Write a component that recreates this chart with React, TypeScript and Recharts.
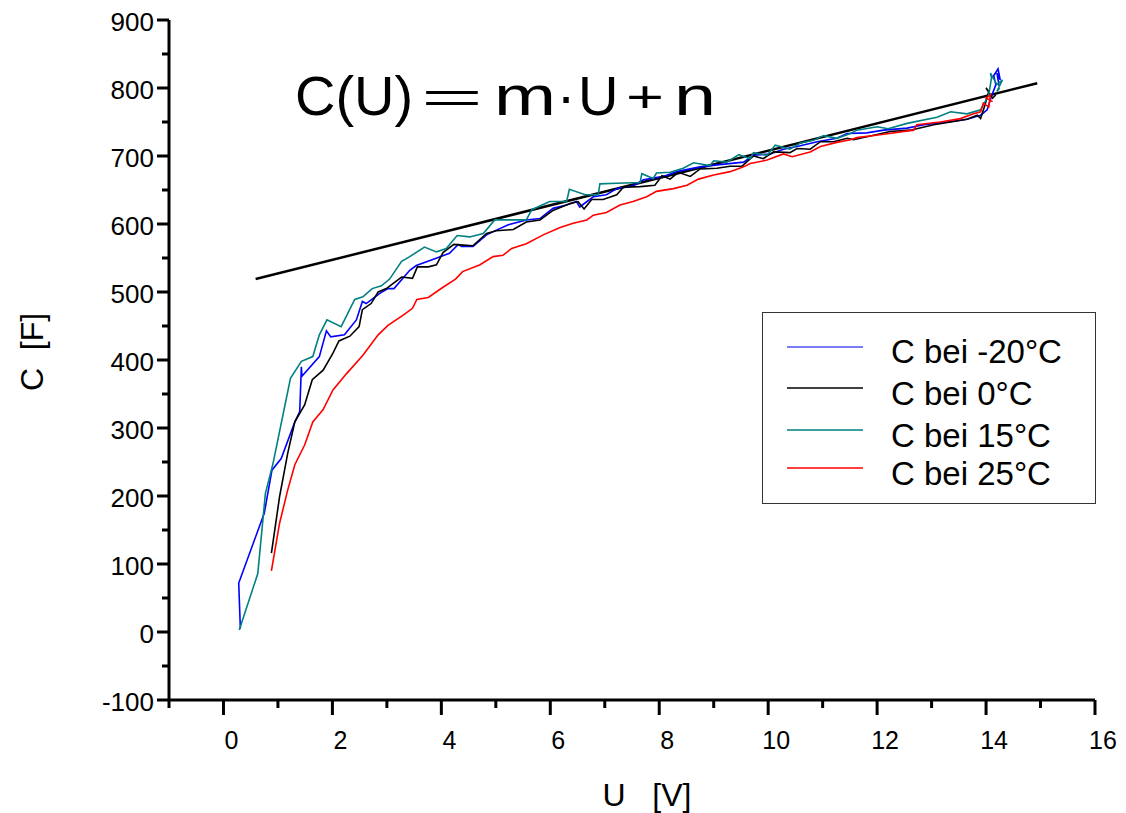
import React from "react";
import { LineChart, Line, XAxis, YAxis, Legend, Customized } from "recharts";

const FONT = "Arial, 'Liberation Sans', sans-serif";

const X_TICKS = [-1, 0, 1, 2, 3, 4, 5, 6, 7, 8, 9, 10, 11, 12, 13, 14, 15, 16];
const Y_TICKS = [-100, -50, 0, 50, 100, 150, 200, 250, 300, 350, 400, 450, 500, 550, 600, 650, 700, 750, 800, 850, 900];

// [U, C] pairs
const C_MINUS20 = [
  [0.31, 5], [0.28, 72], [0.75, 175], [0.89, 238], [1.06, 255], [1.31, 309], [1.4, 324], [1.43, 390], [1.44, 376],
  [1.76, 405], [1.89, 443], [1.97, 434], [2.22, 437], [2.44, 459], [2.55, 486], [2.62, 483], [2.87, 498], [3.02, 505],
  [3.13, 505], [3.42, 532], [3.54, 539], [3.88, 549], [4.15, 557], [4.31, 570], [4.37, 567], [4.58, 567], [4.83, 584],
  [5.01, 591], [5.23, 599], [5.56, 606], [5.81, 608], [6.05, 623], [6.3, 628], [6.48, 633], [6.54, 625], [6.79, 640],
  [7.03, 643], [7.22, 652], [7.52, 656], [7.71, 665], [8.08, 670], [8.32, 677], [8.75, 684], [9.06, 687], [9.55, 691],
  [9.73, 701], [10.04, 703], [10.28, 710], [10.59, 715], [10.9, 721], [11.26, 726], [11.45, 733], [11.81, 734],
  [12.12, 738], [12.55, 741], [12.86, 746], [13.29, 750], [13.65, 754], [13.9, 760], [14.02, 768], [14.1, 788],
  [14.18, 805], [14.14, 818], [14.22, 828], [14.26, 812], [14.2, 822], [14.24, 803],
];

const C_0 = [
  [0.88, 116], [1.03, 199], [1.18, 263], [1.31, 309], [1.49, 334], [1.63, 371], [1.83, 385], [2.01, 410], [2.12, 428],
  [2.32, 435], [2.49, 449], [2.55, 474], [2.71, 483], [2.84, 500], [2.99, 505], [3.27, 522], [3.47, 520], [3.56, 537],
  [3.76, 537], [3.91, 540], [4.03, 558], [4.23, 570], [4.4, 569], [4.58, 568], [4.83, 586], [5.01, 590], [5.32, 592],
  [5.56, 603], [5.81, 606], [6.05, 620], [6.36, 630], [6.51, 633], [6.62, 622], [6.76, 636], [6.97, 636], [7.22, 643],
  [7.34, 654], [7.65, 655], [7.92, 657], [8.05, 671], [8.2, 666], [8.35, 676], [8.57, 670], [8.75, 681], [9.06, 682],
  [9.3, 685], [9.52, 685], [9.73, 700], [9.91, 696], [10.1, 706], [10.4, 705], [10.53, 711], [10.77, 710], [10.96, 721],
  [11.2, 721], [11.45, 726], [11.57, 724], [12.24, 736], [12.61, 738], [13.04, 746], [13.35, 750], [13.65, 754],
  [13.84, 760], [13.9, 755], [13.98, 775], [14.05, 795], [14.0, 800], [14.12, 785], [14.18, 790],
];

const C_15 = [
  [0.29, 3], [0.63, 86], [0.77, 204], [0.91, 248], [1.23, 373], [1.43, 398], [1.64, 405], [1.76, 437], [1.9, 459],
  [2.16, 449], [2.41, 489], [2.56, 493], [2.73, 505], [2.9, 509], [3.05, 519], [3.27, 545], [3.42, 552], [3.69, 566],
  [3.91, 559], [4.09, 564], [4.29, 583], [4.52, 581], [4.77, 586], [4.98, 606], [5.56, 606], [5.66, 621], [5.99, 633],
  [6.3, 633], [6.35, 651], [6.64, 643], [6.88, 643], [6.91, 659], [7.22, 660], [7.65, 661], [7.68, 674], [7.89, 667],
  [7.95, 675], [8.2, 676], [8.44, 682], [8.63, 690], [8.93, 686], [9.0, 693], [9.24, 691], [9.46, 702], [9.67, 696],
  [9.73, 705], [9.98, 701], [10.13, 716], [10.4, 710], [10.59, 719], [10.83, 723], [11.02, 730], [11.26, 726],
  [11.51, 733], [11.63, 738], [12.0, 743], [12.2, 740], [12.55, 748], [13.1, 757], [13.35, 765], [13.65, 762],
  [13.9, 768], [14.05, 790], [14.1, 815], [14.08, 822], [14.2, 805], [14.3, 812], [14.2, 795], [14.25, 800],
];

const C_25 = [
  [0.88, 90], [1.03, 160], [1.18, 209], [1.31, 246], [1.49, 275], [1.64, 309], [1.83, 327], [2.01, 356], [2.26, 380],
  [2.56, 407], [2.84, 437], [3.02, 451], [3.3, 466], [3.47, 476], [3.55, 489], [3.76, 492], [4.03, 507], [4.26, 519],
  [4.39, 530], [4.71, 540], [4.95, 552], [5.13, 554], [5.29, 564], [5.56, 571], [5.87, 584], [6.18, 595], [6.42, 601],
  [6.67, 606], [6.79, 613], [7.03, 617], [7.28, 628], [7.52, 633], [7.77, 640], [7.95, 648], [8.26, 652], [8.51, 657],
  [8.72, 666], [9.0, 672], [9.3, 677], [9.55, 684], [9.67, 689], [9.98, 694], [10.28, 703], [10.44, 699], [10.77, 706],
  [10.96, 714], [11.26, 720], [11.51, 724], [11.63, 727], [12.12, 732], [12.67, 738], [12.73, 746], [13.16, 750],
  [13.53, 755], [13.77, 762], [13.9, 765], [13.95, 778], [14.05, 772], [14.08, 790], [14.0, 785], [14.12, 780],
];

// fitted line C(U) = m*U + n, drawn between its two end points
const FIT = [[0.59, 519], [14.94, 807]];

const SERIES = [
  { name: "C bei -20°C", color: "#0000ff", legendColor: "#5050f5", points: C_MINUS20 },
  { name: "C bei 0°C", color: "#000000", legendColor: "#000000", points: C_0 },
  { name: "C bei 15°C", color: "#008080", legendColor: "#008080", points: C_15 },
  { name: "C bei 25°C", color: "#ff0000", legendColor: "#ff0000", points: C_25 },
];

const toRows = (pts: number[][]) => pts.map(([u, c]) => ({ u, c }));

const XTick = (props: any) => {
  const { x, y, payload } = props;
  const v = payload.value;
  const major = v % 2 === 0;
  return (
    <g>
      <line x1={x} x2={x} y1={y} y2={y + (major ? 15 : 8)} stroke="#000" strokeWidth={3} />
      {major && v >= 0 && (
        <text x={x + 8} y={y + 49} textAnchor="middle" fontSize={25} fontFamily={FONT} fill="#000">
          {v}
        </text>
      )}
    </g>
  );
};

const YTick = (props: any) => {
  const { x, y, payload } = props;
  const v = payload.value;
  const major = v % 100 === 0;
  return (
    <g>
      <line x1={x - (major ? 12 : 7)} x2={x} y1={y} y2={y} stroke="#000" strokeWidth={3} />
      {major && (
        <text x={x - 15} y={y + 11} textAnchor="end" fontSize={26} fontFamily={FONT} fill="#000">
          {v}
        </text>
      )}
    </g>
  );
};

const Labels = () => (
  <g fontFamily={FONT} fill="#000">
    <text x={295} y={115} fontSize={56}>C(U)</text>
    <text x={421} y={112} fontSize={42} textLength={62} lengthAdjust="spacingAndGlyphs">=</text>
    <text x={494} y={115} fontSize={56} textLength={62} lengthAdjust="spacingAndGlyphs">m</text>
    <text x={566} y={115} fontSize={56} textAnchor="middle">·</text>
    <text x={578} y={115} fontSize={56}>U</text>
    <text x={626} y={112} fontSize={44} textLength={38} lengthAdjust="spacingAndGlyphs">+</text>
    <text x={674} y={115} fontSize={56} textLength={42} lengthAdjust="spacingAndGlyphs">n</text>
    <text x={647} y={806} fontSize={32} textAnchor="middle" style={{ whiteSpace: "pre" }}>U   [V]</text>
    <text
      x={43}
      y={352}
      fontSize={32}
      textAnchor="middle"
      transform="rotate(-90, 43, 352)"
      style={{ whiteSpace: "pre" }}
    >
      C  [F]
    </text>
  </g>
);

const LegendBox = () => {
  const lineY = [35, 76, 118, 156];
  const textY = [51, 93, 135, 173];
  return (
    <svg width={334} height={192} style={{ display: "block" }}>
      <rect x={0.5} y={0.5} width={333} height={191} fill="#fff" stroke="#333" strokeWidth={1} />
      {SERIES.map((s, i) => (
        <g key={s.name}>
          <line x1={25} x2={101} y1={lineY[i]} y2={lineY[i]} stroke={s.legendColor} strokeWidth={1.5} />
          <text x={129} y={textY[i]} fontSize={33} fontFamily={FONT} fill="#000">
            {s.name}
          </text>
        </g>
      ))}
    </svg>
  );
};

export default function App() {
  return (
    <div style={{ position: "absolute", left: 0, top: 0, background: "#fff" }}>
      <LineChart width={1126} height={813} margin={{ top: 20, right: 31, left: 109, bottom: 73 }}>
        <XAxis
          type="number"
          dataKey="u"
          domain={[-1, 16]}
          ticks={X_TICKS}
          interval={0}
          tickSize={0}
          tickMargin={0}
          tickLine={false}
          tick={<XTick />}
          axisLine={{ stroke: "#000", strokeWidth: 3 }}
          height={40}
          allowDataOverflow
        />
        <YAxis
          type="number"
          dataKey="c"
          domain={[-100, 900]}
          ticks={Y_TICKS}
          interval={0}
          tickSize={0}
          tickMargin={0}
          tickLine={false}
          tick={<YTick />}
          axisLine={{ stroke: "#000", strokeWidth: 3 }}
          width={60}
          allowDataOverflow
        />
        <Line
          data={toRows(FIT)}
          dataKey="c"
          stroke="#000"
          strokeWidth={2.5}
          dot={false}
          legendType="none"
          isAnimationActive={false}
        />
        {SERIES.map((s) => (
          <Line
            key={s.name}
            name={s.name}
            data={toRows(s.points)}
            dataKey="c"
            stroke={s.color}
            strokeWidth={1.6}
            dot={false}
            isAnimationActive={false}
          />
        ))}
        <Legend
          layout="vertical"
          align="center"
          verticalAlign="middle"
          wrapperStyle={{ position: "absolute", left: 762, top: 312, width: 334, height: 192 }}
          content={() => <LegendBox />}
        />
        <Customized component={<Labels />} />
      </LineChart>
    </div>
  );
}
